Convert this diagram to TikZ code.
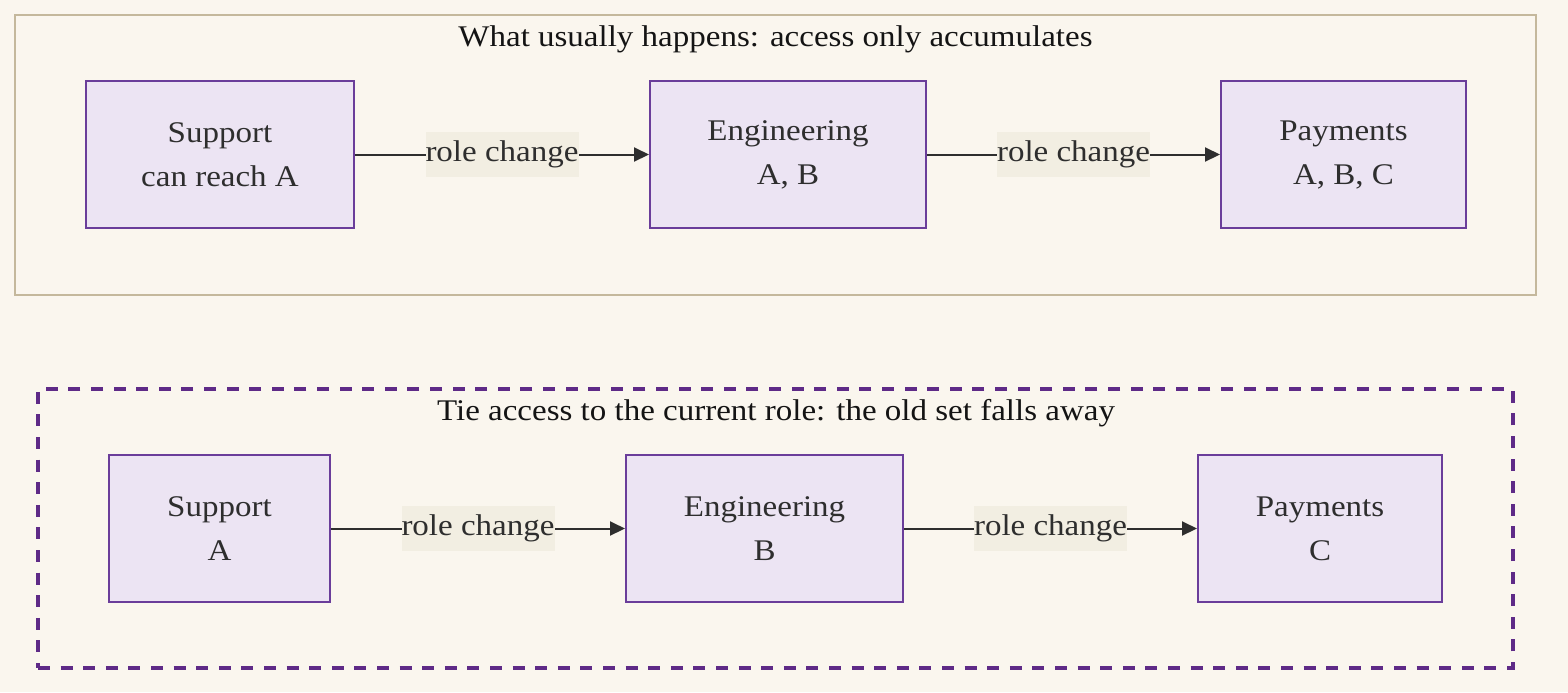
\documentclass[tikz,border=0pt]{standalone}
\usepackage{fontspec}
\setmainfont{Liberation Serif}[FakeStretch=1.1]
\usetikzlibrary{arrows.meta}
\definecolor{bgc}{HTML}{FAF6EE}
\definecolor{frametan}{HTML}{C4B89C}
\definecolor{purp}{HTML}{5E2A87}
\definecolor{nodefill}{HTML}{ECE4F3}
\definecolor{nodeline}{HTML}{6A3D9A}
\definecolor{lblbg}{HTML}{F2EEE2}
\definecolor{txt}{HTML}{2E2E2E}
\tikzset{
  role/.style={draw=nodeline, line width=1pt, fill=nodefill, text=txt, align=center,
    minimum height=73.5pt, inner sep=0pt, font=\fontsize{15}{22}\selectfont},
  lbl/.style={fill=lblbg, text=txt, inner xsep=0pt, minimum height=22.5pt,
    font=\fontsize{15}{22}\selectfont},
  edge/.style={draw=txt, line width=1pt, -{Triangle[length=7.5pt,width=7pt]}},
  ttl/.style={text=black!92, inner sep=0pt, font=\fontsize{15}{22}\selectfont},
}
\begin{document}
\begin{tikzpicture}[x=0.5pt,y=-0.5pt]
\fill[bgc] (0,0) rectangle (1568,692);
\useasboundingbox (0,0) rectangle (1568,692);
% top container
\node[draw=frametan, line width=1pt, fill=bgc, minimum width=760.5pt, minimum height=140pt, inner sep=0pt] (top) at (775.5,155) {};
\node[ttl] (toptitle) at (775.5,39) {What usually happens: access only accumulates};
\node[role, minimum width=134pt] (s1) at (220,154.5) {Support\\can reach A};
\node[role, minimum width=138pt] (e1) at (788,154.5) {Engineering\\A, B};
\node[role, minimum width=122.5pt] (p1) at (1343.5,154.5) {Payments\\A, B, C};
\draw[edge] (s1) -- node[lbl]{role change} (e1);
\draw[edge] (e1) -- node[lbl]{role change} (p1);
% bottom container
\node[draw=purp, line width=2pt, dash pattern=on 6pt off 5.3pt, minimum width=737.5pt, minimum height=139.5pt, inner sep=0pt] (bot) at (775.5,528.5) {};
\node[ttl] (bottitle) at (776,413) {Tie access to the current role: the old set falls away};
\node[role, minimum width=110.5pt, text depth=0pt] (s2) at (219.5,528.5) {Support\\A};
\node[role, minimum width=138.5pt] (e2) at (764.5,528.5) {Engineering\\B};
\node[role, minimum width=122pt] (p2) at (1320,528.5) {Payments\\C};
\draw[edge] (s2) -- node[lbl]{role change} (e2);
\draw[edge] (e2) -- node[lbl]{role change} (p2);
\end{tikzpicture}
\end{document}
